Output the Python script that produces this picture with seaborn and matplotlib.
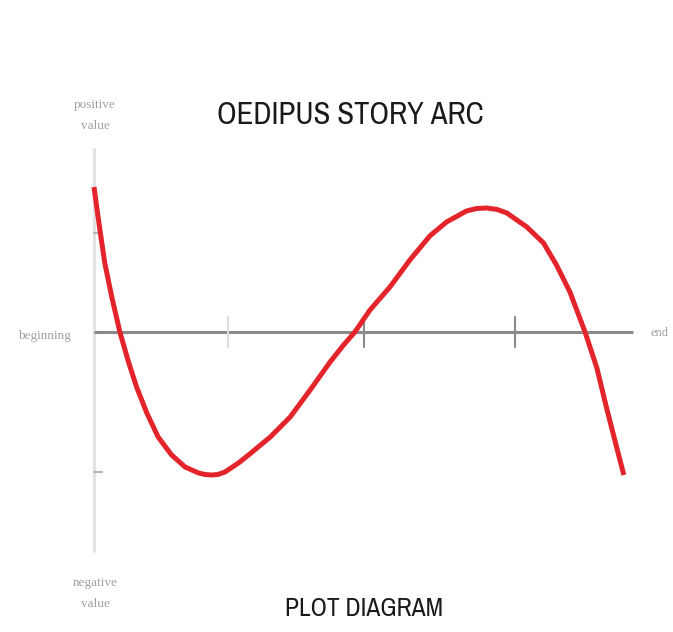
import pandas as pd
import matplotlib.pyplot as plt
import matplotlib.font_manager as fm
import seaborn as sns

# curve (x: 0 = vertical axis, 10 = end of horizontal axis)
arc_x = [0.0, 0.05, 0.11, 0.20, 0.33, 0.48, 0.64, 0.79, 0.98, 1.19, 1.44, 1.69,
         1.94, 2.06, 2.18, 2.30, 2.43, 2.68, 2.89, 3.27, 3.64, 4.01, 4.38, 4.63,
         4.84, 5.12, 5.49, 5.86, 6.23, 6.54, 6.91, 7.10, 7.29, 7.48, 7.66, 8.03,
         8.34, 8.58, 8.83, 9.11, 9.33, 9.51, 9.70, 9.83]
arc_y = [1.45, 1.25, 1.02, 0.69, 0.35, 0.0, -0.30, -0.55, -0.81, -1.05, -1.23, -1.35,
         -1.41, -1.425, -1.43, -1.425, -1.40, -1.31, -1.22, -1.05, -0.85, -0.58, -0.30, -0.13,
         0.0, 0.22, 0.45, 0.72, 0.96, 1.10, 1.21, 1.235, 1.24, 1.225, 1.19, 1.05,
         0.89, 0.67, 0.40, 0.0, -0.36, -0.76, -1.16, -1.43]

x_ticks = [2.49, 5.01, 7.81]
x_tick_colors = ["#dddddd", "#8a8a8a", "#8a8a8a"]
y_ticks = [0.99, -1.40]

title = "OEDIPUS STORY ARC"
subtitle = "PLOT DIAGRAM"
lbl_top = "positive\nvalue"
lbl_bottom = "negative\nvalue"
lbl_left = "beginning"
lbl_right = "end"

df = pd.DataFrame({"x": arc_x, "y": arc_y})

sns.set_theme(style="white")

# look for a narrow / condensed face for the headings
narrow_file = None
for f in fm.fontManager.ttflist:
    name = f.name.lower()
    if "narrow" in name or "condensed" in name or f.stretch in ("condensed", "extra-condensed", "ultra-condensed", 600, 500):
        if narrow_file is None or "narrow" in name:
            narrow_file = f.fname
if narrow_file:
    head_font = fm.FontProperties(fname=narrow_file)
else:
    head_font = fm.FontProperties(family="DejaVu Sans", stretch="condensed")

fig = plt.figure(figsize=(6.73, 6.32), dpi=100)
ax = fig.add_axes([0, 0, 1, 1])

# axes of the diagram
ax.plot([0, 0], [-2.20, 1.84], color="#e2e2e2", lw=2.2, solid_capstyle="butt", zorder=1)
ax.plot([0, 10], [0, 0], color="#8a8a8a", lw=2.2, solid_capstyle="butt", zorder=1)
for xt, c in zip(x_ticks, x_tick_colors):
    ax.plot([xt, xt], [0.15, -0.15], color=c, lw=1.5, zorder=1)
for yt in y_ticks:
    ax.plot([0, 0.15], [yt, yt], color="#b5b5b5", lw=1.5, zorder=1)

sns.lineplot(data=df, x="x", y="y", color="#e3252b", lw=3.6, sort=False, ax=ax,
             zorder=3, solid_joinstyle="round", solid_capstyle="butt")
ax.set_xlim(-1.744, 10.742)
ax.set_ylim(-3.00, 3.32)
ax.axis("off")

ax.text(4.75, 2.17, title, ha="center", va="center", fontproperties=head_font,
        fontsize=24, color="#1a1a1a")
ax.text(5.01, -2.765, subtitle, ha="center", va="center", fontproperties=head_font,
        fontsize=20, color="#1a1a1a")

small = dict(fontsize=9.5, family="Liberation Serif", color="#a0a0a0", ha="center",
             va="center", linespacing=1.9)
ax.text(0.02, 2.165, lbl_top, **small)
ax.text(0.02, -2.615, lbl_bottom, **small)
ax.text(-0.92, -0.04, lbl_left, **small)
ax.text(10.5, -0.01, lbl_right, **{**small, "fontsize": 9})

fig.savefig("out.png", dpi=100, facecolor="white")
